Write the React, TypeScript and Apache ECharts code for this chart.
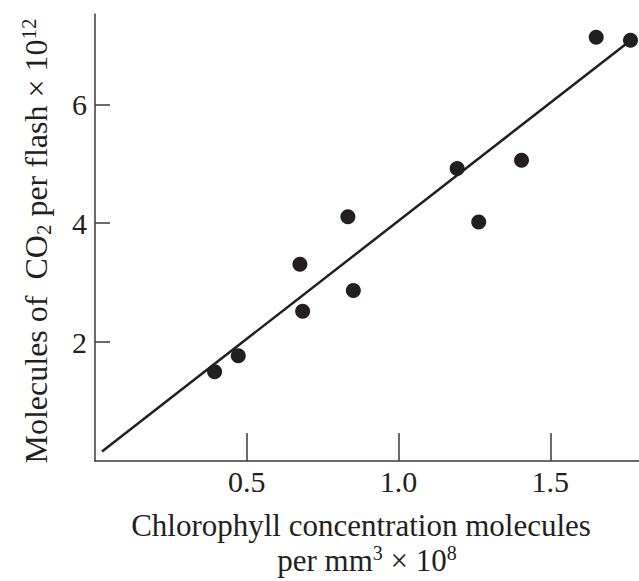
import React, { useEffect, useRef } from "react";
import * as echarts from "echarts";

// Chlorophyll concentration (molecules per mm^3 x 10^8)
const chlorophyll = [0.394, 0.472, 0.675, 0.684, 0.833, 0.851, 1.193, 1.264, 1.405, 1.651, 1.764];
// Molecules of CO2 per flash x 10^12
const co2 = [1.5, 1.77, 3.31, 2.52, 4.11, 2.87, 4.92, 4.02, 5.06, 7.13, 7.08];

// Fitted straight line end points
const fitX = [0.023, 1.765];
const fitY = [0.16, 7.08];

const xTicks = [0.5, 1.0, 1.5];
const xTickLabels = ["0.5", "1.0", "1.5"];
const yTicks = [2, 4, 6];
const yTickLabels = ["2", "4", "6"];

export default function App() {
  const ref = useRef<HTMLDivElement>(null);

  useEffect(() => {
    const chart = echarts.init(ref.current as HTMLDivElement, null, { renderer: "svg" });
    const font = "Liberation Serif";
    const ink = "#231f20";
    const axisColor = "#3a3a3a";

    chart.setOption({
      animation: false,
      textStyle: { fontFamily: font, color: ink },
      grid: { left: 95, right: 0, top: 14, bottom: 114, containLabel: false },
      xAxis: {
        type: "value",
        min: 0,
        max: 1.792,
        splitLine: { show: false },
        axisLine: { onZero: false, lineStyle: { color: axisColor, width: 1.5 } },
        axisTick: {
          show: true,
          inside: true,
          length: 28,
          customValues: xTicks,
          lineStyle: { color: axisColor, width: 1.5 },
        },
        axisLabel: {
          customValues: xTicks,
          formatter: (v: number) => {
            const i = xTicks.findIndex((t) => Math.abs(t - v) < 1e-9);
            return i >= 0 ? xTickLabels[i] : "";
          },
          fontSize: 30,
          fontFamily: font,
          color: ink,
          margin: 5,
        },
        name: "{l|Chlorophyll concentration molecules}\n{a|per mm}{s|3}{a| × 10}{s|8}",
        nameLocation: "middle",
        nameGap: 47,
        nameTextStyle: {
          fontFamily: font,
          rich: {
            l: { fontSize: 31, fontFamily: font, color: ink, lineHeight: 35, padding: [0, 12, 0, 0] },
            a: { fontSize: 31, fontFamily: font, color: ink, lineHeight: 35 },
            s: { fontSize: 20, fontFamily: font, color: ink, lineHeight: 25, verticalAlign: "top" },
          },
        },
      },
      yAxis: {
        type: "value",
        min: 0,
        max: 7.52,
        splitLine: { show: false },
        axisLine: { onZero: false, lineStyle: { color: axisColor, width: 1.5 } },
        axisTick: {
          show: true,
          inside: true,
          length: 15,
          customValues: yTicks,
          lineStyle: { color: axisColor, width: 1.5 },
        },
        axisLabel: {
          customValues: yTicks,
          formatter: (v: number) => {
            const i = yTicks.findIndex((t) => Math.abs(t - v) < 1e-9);
            return i >= 0 ? yTickLabels[i] : "";
          },
          fontSize: 30,
          fontFamily: font,
          color: ink,
          margin: 8,
        },
        name: "{a|Molecules of  CO}{b|2}{a| per flash × 10}{s|12}",
        nameLocation: "middle",
        nameRotate: 90,
        nameGap: 41,
        nameTextStyle: {
          fontFamily: font,
          rich: {
            a: { fontSize: 32, fontFamily: font, color: ink, lineHeight: 36 },
            b: { fontSize: 21, fontFamily: font, color: ink, lineHeight: 23, verticalAlign: "bottom" },
            s: { fontSize: 21, fontFamily: font, color: ink, lineHeight: 26, verticalAlign: "top", padding: [0, 7, 0, 0] },
          },
        },
      },
      series: [
        {
          type: "line",
          data: fitX.map((x, i) => [x, fitY[i]]),
          symbol: "none",
          silent: true,
          lineStyle: { color: ink, width: 2.5 },
          z: 2,
        },
        {
          type: "scatter",
          data: chlorophyll.map((x, i) => [x, co2[i]]),
          symbol: "circle",
          symbolSize: 15,
          itemStyle: { color: ink, opacity: 1 },
          z: 3,
        },
      ],
    });

    return () => {
      chart.dispose();
    };
  }, []);

  return (
    <div
      ref={ref}
      style={{ position: "fixed", left: 0, top: 0, width: 639, height: 581, background: "#fff" }}
    />
  );
}
